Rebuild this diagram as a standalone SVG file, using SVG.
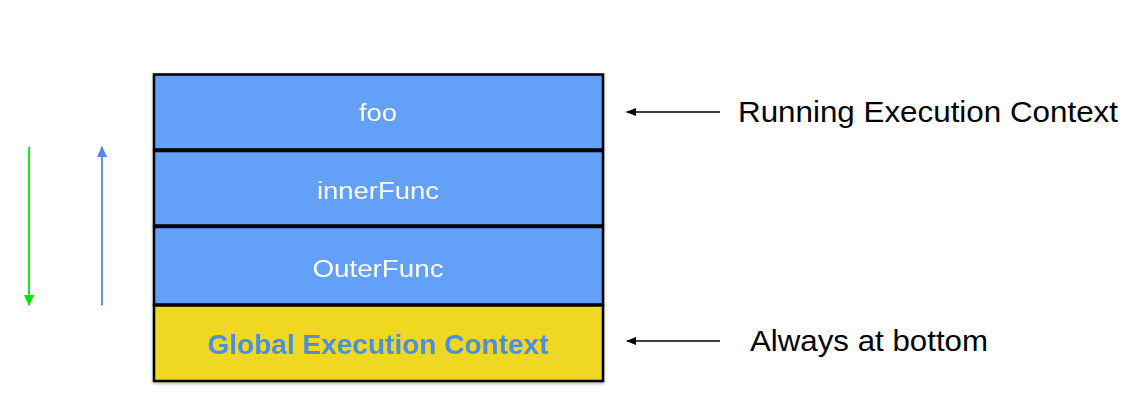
<svg xmlns="http://www.w3.org/2000/svg" width="1137" height="415" viewBox="0 0 1137 415">
<style>
.box{stroke:#000;stroke-width:2.5}
.blue{fill:#62a0f9}
.yellow{fill:#f0d722}
.lbl{font-family:"Liberation Sans",Arial,sans-serif;font-size:23px;fill:#fff;text-anchor:middle}
.glb{font-family:"Liberation Sans",Arial,sans-serif;font-size:28px;font-weight:bold;fill:#4a90e2;text-anchor:middle}
.note{font-family:"Liberation Sans",Arial,sans-serif;font-size:29px;fill:#000}
</style>
<defs>
<filter id="sh" x="-5%" y="-10%" width="110%" height="130%">
<feDropShadow dx="0" dy="1.5" stdDeviation="1.5" flood-color="#000" flood-opacity="0.3"/>
</filter>
<marker id="ak" viewBox="0 0 10 10" refX="9" refY="5" markerWidth="10" markerHeight="10" markerUnits="userSpaceOnUse" orient="auto"><path d="M0,1 L10,5 L0,9 z" fill="#000"/></marker>
<marker id="ag" viewBox="0 0 10 10" refX="9" refY="5" markerWidth="11" markerHeight="11" markerUnits="userSpaceOnUse" orient="auto"><path d="M0,0.5 L10,5 L0,9.5 z" fill="#00e600"/></marker>
<marker id="ab" viewBox="0 0 10 10" refX="9" refY="5" markerWidth="11" markerHeight="11" markerUnits="userSpaceOnUse" orient="auto"><path d="M0,0.5 L10,5 L0,9.5 z" fill="#4a8cf0"/></marker>
</defs>
<g id="node-foo" filter="url(#sh)">
<rect class="box blue" x="154" y="74.5" width="449" height="75"/>
<text class="lbl" x="378" y="121" textLength="38" lengthAdjust="spacingAndGlyphs">foo</text>
</g>
<g id="node-innerFunc" filter="url(#sh)">
<rect class="box blue" x="154" y="151" width="449" height="74.5"/>
<text class="lbl" x="378" y="199" textLength="122" lengthAdjust="spacingAndGlyphs">innerFunc</text>
</g>
<g id="node-OuterFunc" filter="url(#sh)">
<rect class="box blue" x="154" y="227" width="449" height="77.5"/>
<text class="lbl" x="378" y="277" textLength="131" lengthAdjust="spacingAndGlyphs">OuterFunc</text>
</g>
<g id="node-global" filter="url(#sh)">
<rect class="box yellow" x="154" y="305.5" width="449" height="75.5"/>
<text class="glb" x="378" y="354" textLength="341" lengthAdjust="spacingAndGlyphs">Global Execution Context</text>
</g>
<g id="notes">
<text class="note" x="738" y="122" textLength="380" lengthAdjust="spacingAndGlyphs">Running Execution Context</text>
<text class="note" x="750" y="351" textLength="238" lengthAdjust="spacingAndGlyphs">Always at bottom</text>
</g>
<g id="connectors">
<line x1="720" y1="112" x2="627" y2="112" stroke="#000" stroke-width="1.5" marker-end="url(#ak)"/>
<line x1="720" y1="341" x2="627" y2="341" stroke="#000" stroke-width="1.5" marker-end="url(#ak)"/>
<line x1="29" y1="147" x2="29" y2="305" stroke="#00e600" stroke-width="1.8" marker-end="url(#ag)"/>
<line x1="102" y1="305.5" x2="102" y2="147" stroke="#4a8cf0" stroke-width="1.8" marker-end="url(#ab)"/>
</g>
</svg>
